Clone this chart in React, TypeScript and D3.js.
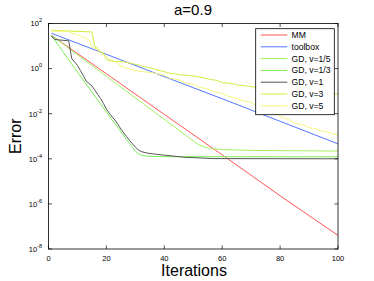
import React from "react";
import * as d3 from "d3";

// iteration / error pairs
const mmData: [number, number][] = [
  [1, 30], [20, 0.59], [40, 9.3e-3], [60, 1.5e-4], [80, 2.3e-6], [100, 4e-8],
];

const toolboxData: [number, number][] = [
  [1, 37], [20, 4.3], [40, 0.44], [60, 0.046], [80, 4.6e-3], [100, 4.6e-4],
];

const gdFifth: [number, number][] = [
  [1, 30], [20, 0.45], [40, 5.6e-3], [48, 9.7e-4], [50, 6.3e-4], [51, 5e-4],
  [52, 4.2e-4], [54, 3.3e-4], [56, 2.9e-4], [60, 2.55e-4], [70, 2.35e-4], [100, 2.2e-4],
];

const gdThird: [number, number][] = [
  [1, 30], [10, 0.7], [20, 0.012], [27, 7e-4], [28, 4.9e-4], [29, 3.2e-4],
  [30, 2.2e-4], [31, 1.7e-4], [32, 1.45e-4], [34, 1.3e-4], [40, 1.24e-4], [100, 1.23e-4],
];

const gdOne: [number, number][] = [
  [1, 28], [2, 20], [3, 19], [5, 18], [7, 17], [8, 2.8], [9, 2.0], [10, 1.38],
  [11, 0.83], [12, 0.5], [13, 0.28], [14, 0.22], [15, 0.17], [16, 0.11], [17, 0.071],
  [18, 0.047], [19, 0.028], [20, 0.016], [21, 0.0105], [22, 7.1e-3], [23, 5.2e-3],
  [24, 3.3e-3], [25, 2.1e-3], [26, 1.4e-3], [27, 9.5e-4], [28, 6.6e-4], [29, 4.6e-4],
  [30, 3.3e-4], [31, 2.5e-4], [32, 2.1e-4], [34, 1.8e-4], [37, 1.6e-4], [40, 1.45e-4],
  [47, 1.17e-4], [57, 1.02e-4], [100, 1e-4],
];

const gdThree: [number, number][] = [
  [1, 50], [15, 42], [16, 9.3], [17, 7.9], [18, 5.6], [19, 4.8], [20, 2.5], [22, 2.1],
  [26, 2.0], [27, 1.9], [29, 1.66], [31, 1.45], [33, 1.2], [35, 1.1], [37, 0.91],
  [39, 0.79], [41, 0.66], [43, 0.6], [46, 0.52], [48, 0.5], [51, 0.45], [53, 0.4],
  [56, 0.33], [58, 0.3], [60, 0.24], [63, 0.22], [66, 0.18], [69, 0.166], [72, 0.145],
  [75, 0.132], [78, 0.12], [81, 0.112], [84, 0.102], [87, 0.095], [90, 0.089],
  [93, 0.083], [96, 0.079], [100, 0.074],
];

const gdFive: [number, number][] = [
  [1, 46], [7, 44], [8, 38], [10, 32], [12, 25], [14, 18.6], [15, 8.9], [17, 7.1],
  [18, 4.5], [20, 3.5], [21, 2.6], [23, 2.1], [25, 1.26], [27, 1.05], [29, 0.87],
  [31, 0.79], [33, 0.72], [36, 0.66], [38, 0.58], [40, 0.5], [42, 0.37], [45, 0.32],
  [47, 0.24], [50, 0.2], [52, 0.15], [55, 0.126], [57, 0.095], [60, 0.079], [62, 0.06],
  [65, 0.048], [67, 0.038], [70, 0.032], [72, 0.022], [75, 0.018], [77, 0.012],
  [79, 0.01], [81, 6.6e-3], [83, 5.6e-3], [85, 3.8e-3], [88, 3.2e-3], [90, 2.4e-3],
  [92, 2.2e-3], [94, 1.74e-3], [97, 1.5e-3], [98, 1.26e-3], [100, 1.15e-3],
];

const seriesNames = ["MM", "toolbox", "GD, v=1/5", "GD, v=1/3", "GD, v=1", "GD, v=3", "GD, v=5"];
const seriesColors = ["#ff5555", "#5577ff", "#a2f060", "#7cee58", "#555555", "#d2ec3c", "#f4f67c"];
const seriesData = [mmData, toolboxData, gdFifth, gdThird, gdOne, gdThree, gdFive];

const xTicks = [0, 20, 40, 60, 80, 100];
const yTickExps = [2, 0, -2, -4, -6, -8];

const W = 374;
const H = 281;
const L = 48.5;
const R = 338;
const T = 23.5;
const B = 249;
const FONT = "'Liberation Sans', Arial, sans-serif";

export default function App() {
  const x = d3.scaleLinear().domain([0, 100]).range([L, R]);
  const y = d3.scaleLog().domain([1e-8, 1e2]).range([B, T]);
  const line = d3
    .line<[number, number]>()
    .x((d) => x(d[0]))
    .y((d) => y(d[1]));

  const tickLen = 3.5;
  const legX = 255.7;
  const legY = 28.7;
  const legW = 78.6;
  const legH = 86;
  const rowH = 11.8;

  return (
    <svg
      width={W}
      height={H}
      style={{ position: "absolute", left: 0, top: 0, background: "#fff" }}
      fontFamily={FONT}
    >
      <rect x={0} y={0} width={W} height={H} fill="#fff" />
      <clipPath id="plot">
        <rect x={L} y={T} width={R - L} height={B - T} />
      </clipPath>

      <g clipPath="url(#plot)">
        {seriesData.map((s, i) => (
          <path key={i} d={line(s) || ""} fill="none" stroke={seriesColors[i]} strokeWidth={1} />
        ))}
      </g>

      {/* axes box */}
      <rect x={L} y={T} width={R - L} height={B - T} fill="none" stroke="#000" strokeWidth={0.8} />

      {xTicks.map((t) => (
        <g key={"x" + t}>
          <line x1={x(t)} x2={x(t)} y1={B} y2={B - tickLen} stroke="#000" strokeWidth={0.7} />
          <line x1={x(t)} x2={x(t)} y1={T} y2={T + tickLen} stroke="#000" strokeWidth={0.7} />
          <text x={x(t)} y={261} fontSize={7.5} textAnchor="middle" fill="#000">
            {t}
          </text>
        </g>
      ))}

      {yTickExps.map((e) => {
        const v = Math.pow(10, e);
        return (
          <g key={"y" + e}>
            <line x1={L} x2={L + tickLen} y1={y(v)} y2={y(v)} stroke="#000" strokeWidth={0.7} />
            <line x1={R} x2={R - tickLen} y1={y(v)} y2={y(v)} stroke="#000" strokeWidth={0.7} />
            <text x={42} y={y(v) + 2.8} fontSize={7.5} textAnchor="end" fill="#000">
              10
              <tspan fontSize={5.5} dy={-4}>
                {e}
              </tspan>
            </text>
          </g>
        );
      })}

      <text x={193} y={15} fontSize={15} textAnchor="middle" fill="#000">
        a=0.9
      </text>
      <text x={194} y={276} fontSize={16} textAnchor="middle" fill="#000">
        Iterations
      </text>
      <text
        transform={`translate(21,${(T + B) / 2}) rotate(-90)`}
        fontSize={16}
        textAnchor="middle"
        fill="#000"
      >
        Error
      </text>

      {/* legend */}
      <rect x={legX} y={legY} width={legW} height={legH} fill="#fff" stroke="#000" strokeWidth={0.8} />
      {seriesNames.map((n, i) => {
        const ly = legY + 6.3 + i * rowH;
        return (
          <g key={n}>
            <line x1={260.7} x2={287.3} y1={ly} y2={ly} stroke={seriesColors[i]} strokeWidth={1} />
            <text x={291.5} y={ly + 3} fontSize={8.6} fill="#000">
              {n}
            </text>
          </g>
        );
      })}
    </svg>
  );
}
